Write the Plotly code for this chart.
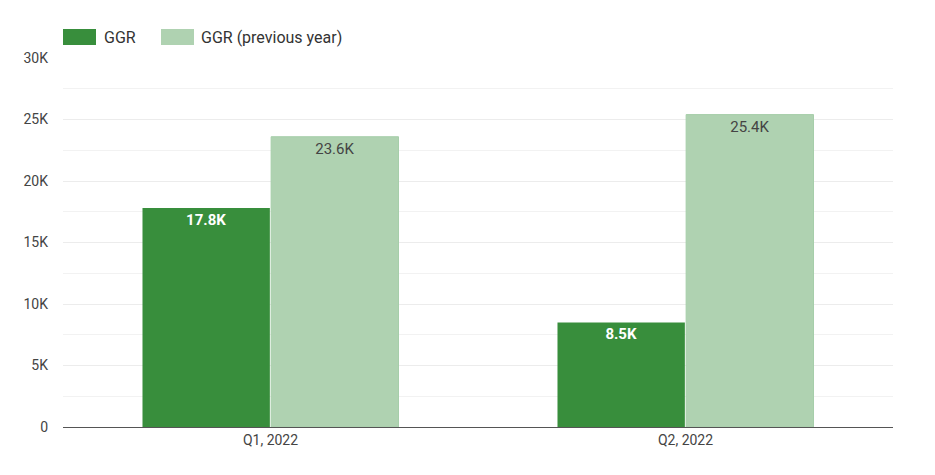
import plotly.graph_objects as go

categories = ["Q1, 2022", "Q2, 2022"]
ggr = [17800, 8500]
ggr_prev = [23600, 25400]
ggr_labels = ["17.8K", "8.5K"]
prev_labels = ["23.6K", "25.4K"]
tick_vals = [0, 5000, 10000, 15000, 20000, 25000, 30000]
tick_text = ["0", "5K", "10K", "15K", "20K", "25K", "30K"]

DARK = "#388e3c"
LIGHT = "#afd2b1"
FONT = "Roboto"

fig = go.Figure()
fig.add_trace(go.Bar(
    x=categories, y=ggr, name="GGR", marker=dict(color=DARK, line=dict(width=0)),
    text=ggr_labels, textposition="inside", insidetextanchor="end",
    textfont=dict(color="white", size=15, family=FONT, weight="bold"),
    textangle=0, hoverinfo="skip"))
fig.add_trace(go.Bar(
    x=categories, y=ggr_prev, name="GGR (previous year)",
    marker=dict(color=LIGHT, line=dict(width=1, color="#a6ceaa")),
    text=prev_labels, textposition="inside", insidetextanchor="end",
    textfont=dict(color="#444444", size=15, family=FONT),
    textangle=0, hoverinfo="skip"))

# page offset (default body margin)
OFF = 8
W, H = 935 - OFF, 475 - OFF
ml, mt = 63 - OFF, 58 - OFF
plot_right, plot_bottom = 893 - OFF, 427 - OFF
mr, mb = W - plot_right, H - plot_bottom
pw, ph = W - ml - mr, H - mt - mb


def px_to_paper_x(px):
    return (px - OFF - ml) / pw


def py_to_paper_y(py):
    return (plot_bottom - (py - OFF)) / ph


# custom legend (wide swatches)
legend_items = [("GGR", DARK, 63, 96, 102), ("GGR (previous year)", LIGHT, 161, 194, 199)]
for name, col, x0, x1, tx in legend_items:
    fig.add_shape(type="rect", xref="paper", yref="paper",
                  x0=px_to_paper_x(x0), x1=px_to_paper_x(x1),
                  y0=py_to_paper_y(45), y1=py_to_paper_y(29),
                  fillcolor=col, line=dict(width=0))
    fig.add_annotation(text=name, xref="paper", yref="paper",
                       x=px_to_paper_x(tx), y=py_to_paper_y(37),
                       xanchor="left", yanchor="middle", showarrow=False,
                       font=dict(family=FONT, size=16, color="#333333"))

fig.update_layout(
    width=W, height=H,
    margin=dict(l=ml, r=mr, t=mt, b=mb),
    paper_bgcolor="white", plot_bgcolor="white",
    barmode="group", bargap=0.38, bargroupgap=0.01,
    showlegend=False,
    font=dict(family=FONT, size=14, color="#444444"),
)
fig.update_yaxes(range=[0, 30000], tickvals=tick_vals, ticktext=tick_text,
                 showgrid=True, gridcolor="#ececec", gridwidth=1,
                 minor=dict(dtick=2500, tick0=0, showgrid=True, gridcolor="#f2f2f2", gridwidth=1),
                 zeroline=False, showline=False, ticks="", ticklen=0,
                 tickfont=dict(family=FONT, size=14, color="#444444"), ticklabelstandoff=14)
fig.update_xaxes(showline=True, linecolor="#555555", linewidth=1, ticks="",
                 tickfont=dict(family=FONT, size=14, color="#444444"))

fig.write_html("out.html")
